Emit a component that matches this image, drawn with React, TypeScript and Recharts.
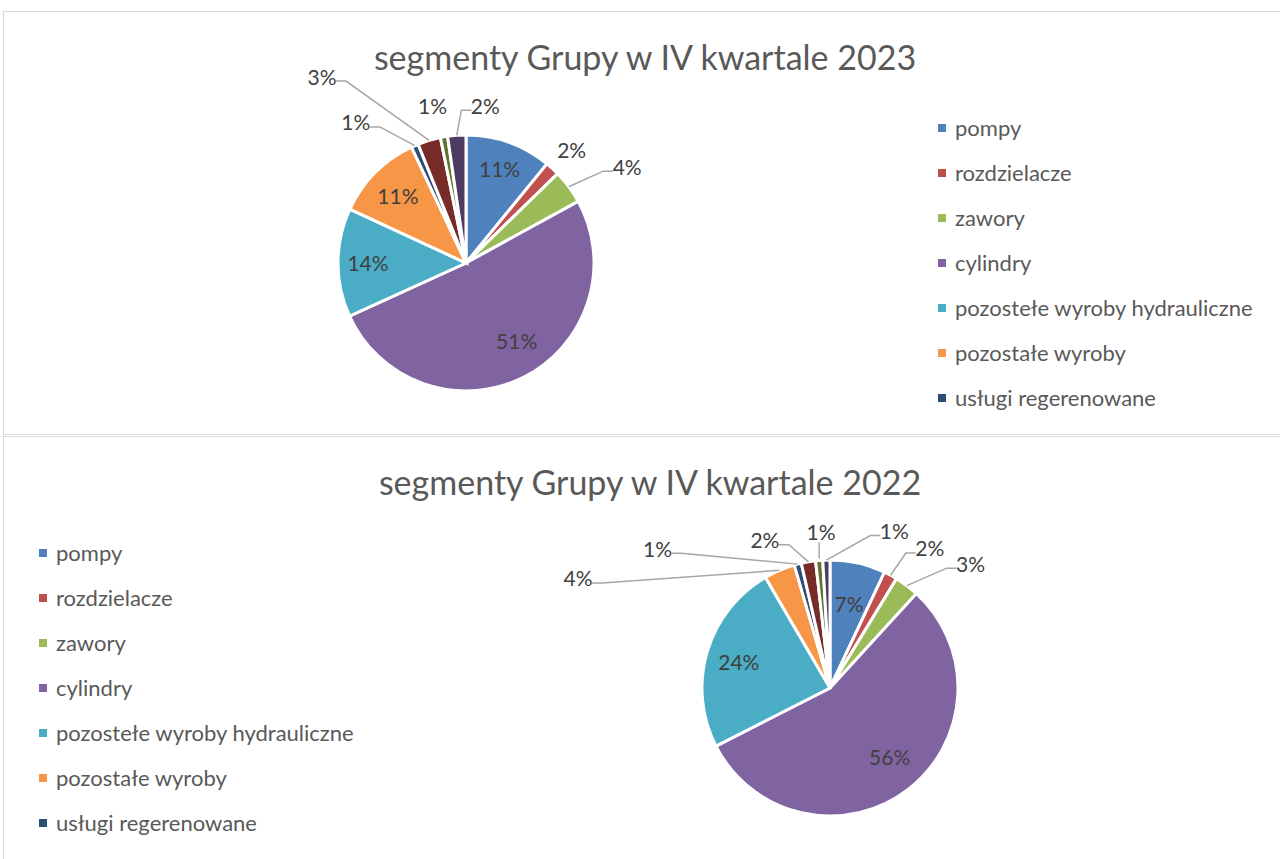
import { Cell, Legend, Pie, PieChart } from "recharts";

const segmentNames = [
  "pompy",
  "rozdzielacze",
  "zawory",
  "cylindry",
  "pozostełe wyroby hydrauliczne",
  "pozostałe wyroby",
  "usługi regerenowane",
  "inne 1",
  "inne 2",
  "inne 3"
];

const values2023 = [10.9, 1.8, 4.3, 51.2, 13.7, 11.1, 0.9, 2.9, 0.9, 2.3];
const values2022 = [7.0, 1.7, 3.1, 55.7, 24.1, 3.9, 0.9, 1.8, 0.9, 0.9];

const sliceColors = [
  "#4F81BD",
  "#C0504D",
  "#9BBB59",
  "#8064A2",
  "#4BACC6",
  "#F79646",
  "#2C4D75",
  "#772C2A",
  "#5F7530",
  "#4D3B62"
];

// only the first 7 entries fit into the legend box
const LEGEND_COUNT = 7;
const FONT = "Lato, 'Open Sans', sans-serif";
const RAD = Math.PI / 180;

type LabelSpot = { d: number; a?: number; line?: boolean };

// label placement: d = distance from centre, a = clockwise angle from top
const labels2023: LabelSpot[] = [
  { d: 100 },
  { d: 155, a: 43 },
  { d: 188, a: 59, line: true },
  { d: 93, a: 147 },
  { d: 98 },
  { d: 96 },
  { d: 179, a: 322, line: true },
  { d: 236, a: 322.4, line: true },
  { d: 161, a: 348 },
  { d: 159, a: 7, line: true }
];

const labels2022: LabelSpot[] = [
  { d: 87 },
  { d: 172, a: 35.5, line: true },
  { d: 188, a: 48.4, line: true },
  { d: 91, a: 139 },
  { d: 95 },
  { d: 275, a: 293.6, line: true },
  { d: 222, a: 309, line: true },
  { d: 162, a: 336.3, line: true },
  { d: 157, a: 356.7, line: true },
  { d: 170, a: 22.2, line: true }
];

function toRows(values: number[]) {
  return segmentNames.map((name, i) => ({ name, value: values[i] }));
}

function makeLabel(layout: LabelSpot[]) {
  return (props: any) => {
    const { cx, cy, midAngle, outerRadius, percent, index } = props;
    const spot = layout[index];
    const theta = (spot.a ?? 90 - midAngle) * RAD;
    const x = cx + spot.d * Math.sin(theta);
    const y = cy - spot.d * Math.cos(theta);
    const text = `${Math.round(percent * 100)}%`;
    let leader = null;
    if (spot.line) {
      const ex = cx + outerRadius * Math.cos(-midAngle * RAD);
      const ey = cy + outerRadius * Math.sin(-midAngle * RAD);
      const half = (text.length * 10) / 2;
      let points: string;
      if (Math.abs(x - ex) < half) {
        points = `${ex},${ey - 2} ${ex},${y + 11}`;
      } else if (x > ex) {
        const ax = x - half - 4;
        points = `${ex},${ey} ${ax - 10},${y + 5} ${ax},${y + 5}`;
      } else {
        const ax = x + half + 4;
        points = `${ex},${ey} ${ax + 10},${y + 5} ${ax},${y + 5}`;
      }
      leader = <polyline points={points} fill="none" stroke="#A6A6A6" strokeWidth={1.5} />;
    }
    return (
      <g key={`lbl-${index}`}>
        {leader}
        <text
          x={x}
          y={y}
          textAnchor="middle"
          dominantBaseline="central"
          fill="#404040"
          fontSize={21}
          fontFamily={FONT}
        >
          {text}
        </text>
      </g>
    );
  };
}

function LegendList({ payload }: any) {
  // keep the data order, recharts hands the entries over sorted
  const items = segmentNames
    .slice(0, LEGEND_COUNT)
    .map((name) => (payload ?? []).find((p: any) => p.value === name))
    .filter(Boolean);
  return (
    <div style={{ fontFamily: FONT }}>
      {items.map((item: any) => (
        <div
          key={item.value}
          style={{ height: 45, display: "flex", alignItems: "center", color: "#595959", fontSize: 22 }}
        >
          <span
            style={{ width: 8, height: 8, background: item.color, display: "inline-block", marginRight: 9 }}
          />
          {item.value}
        </div>
      ))}
    </div>
  );
}

function SegmentPie({
  title,
  values,
  layout,
  pieX,
  titleX,
  legendLeft
}: {
  title: string;
  values: number[];
  layout: LabelSpot[];
  pieX: number;
  titleX: number;
  legendLeft: number;
}) {
  const rows = toRows(values);
  return (
    <>
      <div
        style={{
          position: "absolute",
          left: titleX - 400,
          width: 800,
          top: 23,
          textAlign: "center",
          fontFamily: FONT,
          fontSize: 34,
          color: "#595959",
          lineHeight: "44px"
        }}
      >
        {title}
      </div>
      <PieChart
        width={1280}
        height={422}
        margin={{ top: 0, right: 0, bottom: 0, left: 0 }}
        style={{ position: "absolute", left: 0, top: 0 }}
      >
        <Pie
          data={rows}
          dataKey="value"
          nameKey="name"
          cx={pieX}
          cy={251}
          outerRadius={128}
          startAngle={90}
          endAngle={-270}
          stroke="#FFFFFF"
          strokeWidth={3}
          labelLine={false}
          label={makeLabel(layout)}
          isAnimationActive={false}
        >
          {rows.map((row, i) => (
            <Cell key={row.name} fill={sliceColors[i]} />
          ))}
        </Pie>
        <Legend
          layout="vertical"
          content={<LegendList />}
          wrapperStyle={{ position: "absolute", left: legendLeft, top: 93, width: 360, bottom: "auto" }}
        />
      </PieChart>
    </>
  );
}

export default function App() {
  const box = {
    position: "absolute" as const,
    left: 3,
    width: 1290,
    border: "1px solid #D9D9D9",
    background: "#FFFFFF",
    overflow: "hidden"
  };
  return (
    <div style={{ position: "absolute", left: 0, top: 0, width: 1280, height: 859, overflow: "hidden", background: "#FFFFFF" }}>
      <div style={{ ...box, top: 11, height: 422 }}>
        <SegmentPie
          title="segmenty Grupy w IV kwartale 2023"
          values={values2023}
          layout={labels2023}
          pieX={462}
          titleX={641}
          legendLeft={934}
        />
      </div>
      <div style={{ ...box, top: 436, height: 430 }}>
        <SegmentPie
          title="segmenty Grupy w IV kwartale 2022"
          values={values2022}
          layout={labels2022}
          pieX={826}
          titleX={646}
          legendLeft={35}
        />
      </div>
    </div>
  );
}
